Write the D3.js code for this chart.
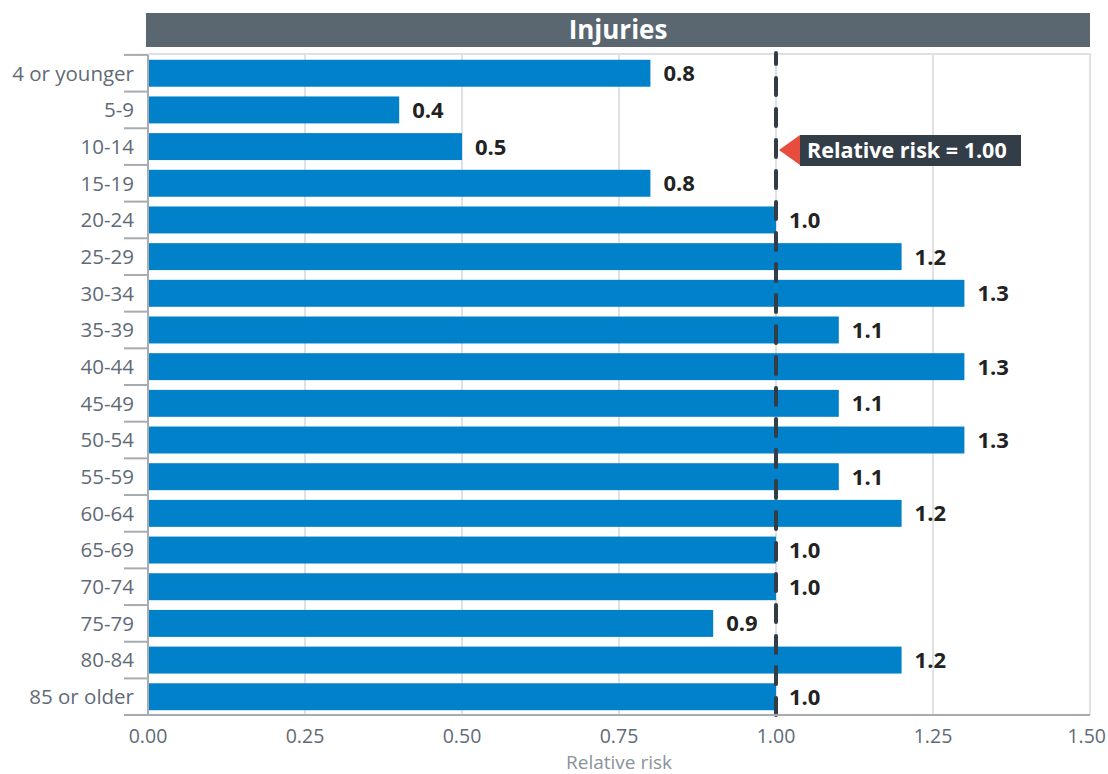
<!DOCTYPE html>
<html><head><meta charset="utf-8">
<script src="https://cdn.jsdelivr.net/npm/d3@7"></script>
<style>body{margin:0;background:#fff;font-family:"Open Sans",sans-serif}</style>
</head><body><svg id="c" width="1108" height="774"></svg>
<script>
const categories = ["4 or younger","5-9","10-14","15-19","20-24","25-29","30-34","35-39","40-44","45-49","50-54","55-59","60-64","65-69","70-74","75-79","80-84","85 or older"];
const values = [0.8,0.4,0.5,0.8,1.0,1.2,1.3,1.1,1.3,1.1,1.3,1.1,1.2,1.0,1.0,0.9,1.2,1.0];
const xTicks = [0,0.25,0.5,0.75,1.0,1.25,1.5];
const title = "Injuries";
const refValue = 1.0;
const refLabel = "Relative risk = 1.00";
const xTitle = "Relative risk";

const svg = d3.select("#c");
const L = 148, R = 1090, T = 55, B = 715;
const x = d3.scaleLinear().domain([0,1.5]).range([L,R]);
const y = d3.scaleBand().domain(categories).range([T,B]).paddingInner(0.265).paddingOuter(0.13);

// title bar
svg.append("rect").attr("x",146).attr("y",13).attr("width",R-146).attr("height",34).attr("fill","#5a6670");
svg.append("text").attr("x",(146+R)/2).attr("y",30).attr("dy","0.35em").attr("text-anchor","middle")
  .attr("fill","#fff").attr("font-weight","bold").attr("font-size",26).text(title);

// grid
svg.append("g").selectAll("line").data(xTicks.slice(1)).join("line")
  .attr("x1",d=>x(d)).attr("x2",d=>x(d)).attr("y1",T).attr("y2",B)
  .attr("stroke","#dfe1e4").attr("stroke-width",2);
svg.append("line").attr("x1",L).attr("x2",R+1).attr("y1",T-1).attr("y2",T-1).attr("stroke","#dfe1e4").attr("stroke-width",2);

// bars
svg.append("g").selectAll("rect").data(values).join("rect")
  .attr("x",x(0)).attr("y",(d,i)=>y(categories[i])).attr("width",d=>x(d)-x(0)).attr("height",y.bandwidth())
  .attr("fill","#0081c9");

// value labels
svg.append("g").selectAll("text").data(values).join("text")
  .attr("x",d=>x(d)+13).attr("y",(d,i)=>y(categories[i])+y.bandwidth()/2).attr("dy","0.36em")
  .attr("font-weight","bold").attr("font-size",22).attr("fill","#222").text(d=>d.toFixed(1));

// reference dashed line
svg.append("line").attr("x1",x(refValue)).attr("x2",x(refValue)).attr("y1",T-2).attr("y2",B)
  .attr("stroke","#333d47").attr("stroke-width",4).attr("stroke-dasharray","17,14").attr("stroke-dashoffset",6)
  .attr("stroke-linecap","round");

// annotation
const ay = 150;
svg.append("path").attr("d",`M${x(refValue)+3},${ay} L${x(refValue)+24},${ay-15} L${x(refValue)+24},${ay+15} Z`).attr("fill","#e84c3d");
svg.append("rect").attr("x",x(refValue)+24).attr("y",ay-15).attr("width",221).attr("height",31).attr("fill","#333d47");
svg.append("text").attr("x",x(refValue)+31).attr("y",ay).attr("dy","0.36em").attr("fill","#fff")
  .attr("font-weight","bold").attr("font-size",21.5).text(refLabel);

// y axis
const yAxis = svg.append("g").attr("transform",`translate(${L},0)`);
yAxis.append("line").attr("x1",0).attr("x2",0).attr("y1",T).attr("y2",B).attr("stroke","#a8abaf").attr("stroke-width",2);
const bounds = categories.map(c=>y(c)-y.step()*y.paddingInner()/2).concat([B]);
yAxis.selectAll("line.t").data(bounds).join("line").attr("class","t")
  .attr("x1",-24).attr("x2",0).attr("y1",d=>d).attr("y2",d=>d).attr("stroke","#a8abaf").attr("stroke-width",2);
yAxis.selectAll("text").data(categories).join("text")
  .attr("x",-14).attr("y",d=>y(d)+y.bandwidth()/2).attr("dy","0.36em").attr("text-anchor","end")
  .attr("font-size",20.5).attr("fill","#5f6b76").text(d=>d);

// x axis
svg.append("line").attr("x1",L-24).attr("x2",R).attr("y1",B).attr("y2",B).attr("stroke","#a8abaf").attr("stroke-width",2);
svg.append("g").selectAll("text").data(xTicks).join("text")
  .attr("x",(d,i)=>i===xTicks.length-1 ? 1106 : x(d)).attr("y",743)
  .attr("text-anchor",(d,i)=>i===xTicks.length-1 ? "end" : "middle")
  .attr("font-size",19.5).attr("fill","#5f6b76").text(d=>d.toFixed(2));
svg.append("text").attr("x",(L+R)/2).attr("y",769).attr("text-anchor","middle")
  .attr("font-size",19).attr("fill","#8a939b").text(xTitle);
</script></body></html>
